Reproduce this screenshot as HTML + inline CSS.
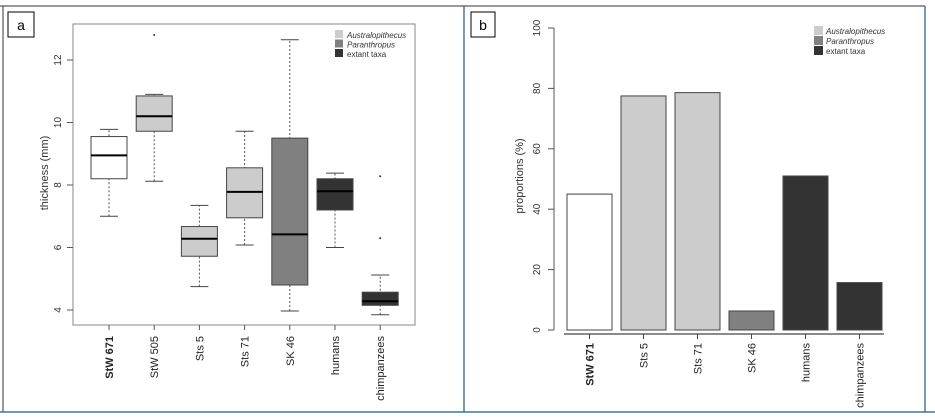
<!DOCTYPE html>
<html><head><meta charset="utf-8"><style>
body{margin:0;background:#fff;width:935px;height:415px;overflow:hidden;font-family:"Liberation Sans",sans-serif}
svg text{font-family:"Liberation Sans",sans-serif}
</style></head><body>
<svg id="fig" width="935" height="415" viewBox="0 0 935 415">
  <line x1="0" y1="6" x2="925" y2="6" stroke="#333" stroke-width="1"/>
  <line x1="3" y1="6" x2="3" y2="412" stroke="#333" stroke-width="1"/>
  <line x1="464" y1="6" x2="464" y2="412" stroke="#1f5a85" stroke-width="1.2"/>
  <line x1="925" y1="6" x2="925" y2="412" stroke="#1f5a85" stroke-width="1.2"/>
  <line x1="0" y1="412" x2="935" y2="412" stroke="#1f5a85" stroke-width="1.2"/>
  <g id="pa"></g>
  <g id="pb"></g>
</svg>
<script>
const boxCats=["StW 671","StW 505","Sts 5","Sts 71","SK 46","humans","chimpanzees"];
const boxLo=[7.0,8.12,4.75,6.08,3.97,6.0,3.85];
const boxQ1=[8.2,9.72,5.72,6.95,4.8,7.2,4.15];
const boxMed=[8.95,10.2,6.28,7.78,6.42,7.8,4.28];
const boxQ3=[9.55,10.85,6.67,8.55,9.5,8.2,4.57];
const boxHi=[9.78,10.9,7.35,9.72,12.65,8.38,5.12];
const boxOutCat=[1,6,6];
const boxOutVal=[12.8,8.28,6.3];
const boxFill=["#ffffff","#cccccc","#cccccc","#cccccc","#808080","#333333","#333333"];
const yTicksA=[4,6,8,10,12];
const barCats=["StW 671","Sts 5","Sts 71","SK 46","humans","chimpanzees"];
const barVals=[45,77.5,78.6,6.3,51,15.7];
const barFill=["#ffffff","#cccccc","#cccccc","#808080","#333333","#333333"];
const yTicksB=[0,20,40,60,80,100];
const legendLabels=["Australopithecus","Paranthropus","extant taxa"];
const legendColors=["#cccccc","#808080","#333333"];

const NS="http://www.w3.org/2000/svg";
function mk(p,t,a,txt){const e=document.createElementNS(NS,t);for(const k in a)e.setAttribute(k,a[k]);if(txt!==undefined)e.textContent=txt;p.appendChild(e);return e;}

// Panel A
const A=document.getElementById('pa');
const ya=v=>310-(v-4)*31.25;
const xa=i=>109+i*45.2;
let e;
e=mk(A,'rect',{x:8,y:12,width:26,height:25,fill:'#fff',stroke:'#000','stroke-width':1});

e=mk(A,'text',{x:21,y:30,'font-size':14,'text-anchor':'middle'},'a');

e=mk(A,'rect',{x:73,y:24,width:342,height:301,fill:'none',stroke:'#888','stroke-width':1});

yTicksA.forEach(v=>{
  const y=ya(v);
  e=mk(A,'line',{x1:67,y1:y,x2:73,y2:y,stroke:'#555'});
  
  e=mk(A,'text',{x:0,y:0,'font-size':10,'text-anchor':'middle',fill:'#333',transform:`translate(61,${y}) rotate(-90)`},String(v));
  
});
e=mk(A,'text',{x:0,y:0,'font-size':11,'text-anchor':'middle',fill:'#333',transform:'translate(48,173) rotate(-90)'},'thickness (mm)');

boxCats.forEach((c,i)=>{
  const x=xa(i),w=36;
  e=mk(A,'line',{x1:x,y1:ya(boxLo[i]),x2:x,y2:ya(boxHi[i]),stroke:'#555','stroke-dasharray':'2,2'});
  
  [boxLo[i],boxHi[i]].forEach(v=>{e=mk(A,'line',{x1:x-9,y1:ya(v),x2:x+9,y2:ya(v),stroke:'#444'});
    });
  e=mk(A,'rect',{x:x-w/2,y:ya(boxQ3[i]),width:w,height:ya(boxQ1[i])-ya(boxQ3[i]),fill:boxFill[i],stroke:'#444','stroke-width':1});
  
  e=mk(A,'line',{x1:x-w/2,y1:ya(boxMed[i]),x2:x+w/2,y2:ya(boxMed[i]),stroke:'#000','stroke-width':2});
  
  e=mk(A,'line',{x1:x,y1:325,x2:x,y2:330,stroke:'#555'});
  
  e=mk(A,'text',{x:0,y:0,'font-size':11,'text-anchor':'end',fill:'#222','font-weight':i===0?'bold':'normal',transform:`translate(${x+4},336) rotate(-90)`},c);
  
});
boxOutCat.forEach((c,j)=>{
  e=mk(A,'circle',{cx:xa(c),cy:ya(boxOutVal[j]),r:1,fill:'#333'});
  
});
legendLabels.forEach((l,i)=>{
  e=mk(A,'rect',{x:335,y:30+i*9.5,width:8,height:8,fill:legendColors[i]});
  
  e=mk(A,'text',{x:347,y:38+i*9.5,'font-size':8,fill:'#333','font-style':i<2?'italic':'normal'},l);
  
});

// Panel B
const B=document.getElementById('pb');
const yb=v=>330-v*3.02;
const xb=i=>589.5+i*54;
e=mk(B,'rect',{x:471,y:12,width:24,height:25,fill:'#fff',stroke:'#000','stroke-width':1});

e=mk(B,'text',{x:483,y:30,'font-size':14,'text-anchor':'middle'},'b');

e=mk(B,'line',{x1:554,y1:yb(0),x2:554,y2:yb(100),stroke:'#555'});

yTicksB.forEach(v=>{
  e=mk(B,'line',{x1:548,y1:yb(v),x2:554,y2:yb(v),stroke:'#555'});
  
  e=mk(B,'text',{x:0,y:0,'font-size':10,'text-anchor':'middle',fill:'#333',transform:`translate(540,${yb(v)}) rotate(-90)`},String(v));
  
});
e=mk(B,'text',{x:0,y:0,'font-size':11,'text-anchor':'middle',fill:'#333',transform:'translate(523,176) rotate(-90)'},'proportions (%)');

e=mk(B,'line',{x1:564,y1:334,x2:884,y2:334,stroke:'#444','stroke-width':1.2});

barCats.forEach((c,i)=>{
  const x=xb(i);
  e=mk(B,'rect',{x:x-22.5,y:yb(barVals[i]),width:45,height:yb(0)-yb(barVals[i]),fill:barFill[i],stroke:'#444','stroke-width':1});
  
  e=mk(B,'line',{x1:x,y1:334,x2:x,y2:339,stroke:'#444'});
  
  e=mk(B,'text',{x:0,y:0,'font-size':11,'text-anchor':'end',fill:'#222','font-weight':i===0?'bold':'normal',transform:`translate(${x+4},343) rotate(-90)`},c);
  
});
legendLabels.forEach((l,i)=>{
  e=mk(B,'rect',{x:814,y:26+i*10,width:9,height:9,fill:legendColors[i]});
  
  e=mk(B,'text',{x:826,y:34+i*10,'font-size':8,fill:'#333','font-style':i<2?'italic':'normal'},l);
  
});
</script>
</body></html>
